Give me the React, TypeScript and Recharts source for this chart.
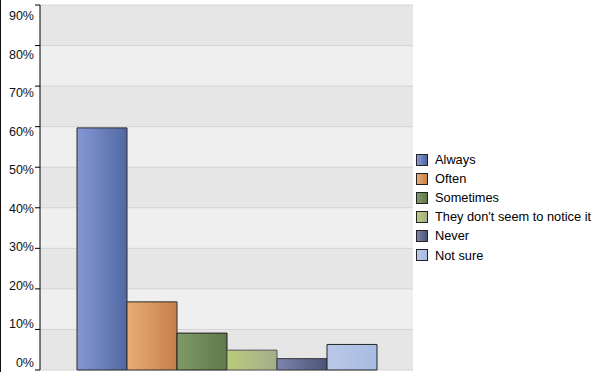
import React from 'react';
import { BarChart, Bar, XAxis, YAxis, CartesianGrid } from 'recharts';

const seriesKeys = ['always', 'often', 'sometimes', 'notice', 'never', 'notSure'];
const seriesNames = ['Always', 'Often', 'Sometimes', "They don't seem to notice it", 'Never', 'Not sure'];
const seriesValues = [0.597, 0.168, 0.091, 0.049, 0.028, 0.063];
const yTicks = [0, 0.1, 0.2, 0.3, 0.4, 0.5, 0.6, 0.7, 0.8, 0.9];
const gradStart = ['#8698d6', '#e8ad72', '#809a67', '#bacb7a', '#7f84ac', '#b9c8e8'];
const gradEnd = ['#5068a2', '#c5804a', '#61784b', '#a4ae8c', '#4a5478', '#a8bbe2'];
const strokes = ['#2a2a2a', '#2e2e2e', '#1e1e1e', '#555555', '#333333', '#222222'];

const row: Record<string, any> = { name: '' };
seriesKeys.forEach((k, i) => (row[k] = seriesValues[i]));
const data = [row];

const YTick = (props: any) => {
  const { x, y, payload } = props;
  const v = payload.value;
  const off = -7 + 18 * (v / 0.9);
  return (
    <text
      x={x}
      y={y + off}
      textAnchor="end"
      dominantBaseline="central"
      fontSize={12.5}
      fill="#111"
      fontFamily="'Liberation Sans', Arial, sans-serif"
    >
      {Math.round(v * 100) + '%'}
    </text>
  );
};

export default function App() {
  return (
    <div style={{ position: 'absolute', left: 0, top: 0, width: 592, height: 372, background: '#fff', overflow: 'hidden' }}>
      <div style={{ position: 'absolute', left: 0, top: 0, width: 1, height: 372, background: '#111' }} />
      <BarChart
        width={592}
        height={372}
        data={data}
        margin={{ top: 5, right: 179, bottom: 2, left: 0 }}
        barGap={0}
      >
        <defs>
          {seriesKeys.map((k, i) => (
            <linearGradient key={k} id={'g_' + k} x1="0" y1="0" x2="1" y2="0">
              <stop offset="0%" stopColor={gradStart[i]} />
              <stop offset="100%" stopColor={gradEnd[i]} />
            </linearGradient>
          ))}
        </defs>
        <CartesianGrid
          vertical={false}
          stroke="#d4d4d4"
          horizontalFill={['#e6e6e6', '#efefef']}
          fillOpacity={1}
        />
        <XAxis dataKey="name" height={0} tick={false} tickLine={false} axisLine={{ stroke: '#000' }} />
        <YAxis
          width={40}
          domain={[0, 0.9]}
          ticks={yTicks}
          interval={0}
          tickSize={5}
          tickMargin={1}
          tickLine={{ stroke: '#000' }}
          axisLine={{ stroke: '#000' }}
          tick={<YTick />}
        />
        {seriesKeys.map((k, i) => (
          <Bar
            key={k}
            dataKey={k}
            name={seriesNames[i]}
            barSize={50}
            fill={'url(#g_' + k + ')'}
            stroke={strokes[i]}
            strokeWidth={1}
            isAnimationActive={false}
          />
        ))}
      </BarChart>
      <div style={{ position: 'absolute', left: 416, top: 150, fontFamily: "'Liberation Sans', Arial, sans-serif", fontSize: 12.8, color: '#000' }}>
        {seriesNames.map((n, i) => (
          <div key={n} style={{ display: 'flex', alignItems: 'center', height: 19.1, whiteSpace: 'nowrap' }}>
            <div
              style={{
                width: 10,
                height: 10,
                border: '1px solid #222',
                background: `linear-gradient(to right, ${gradStart[i]}, ${gradEnd[i]})`,
                marginRight: 7,
                flexShrink: 0,
              }}
            />
            <span>{n}</span>
          </div>
        ))}
      </div>
    </div>
  );
}
